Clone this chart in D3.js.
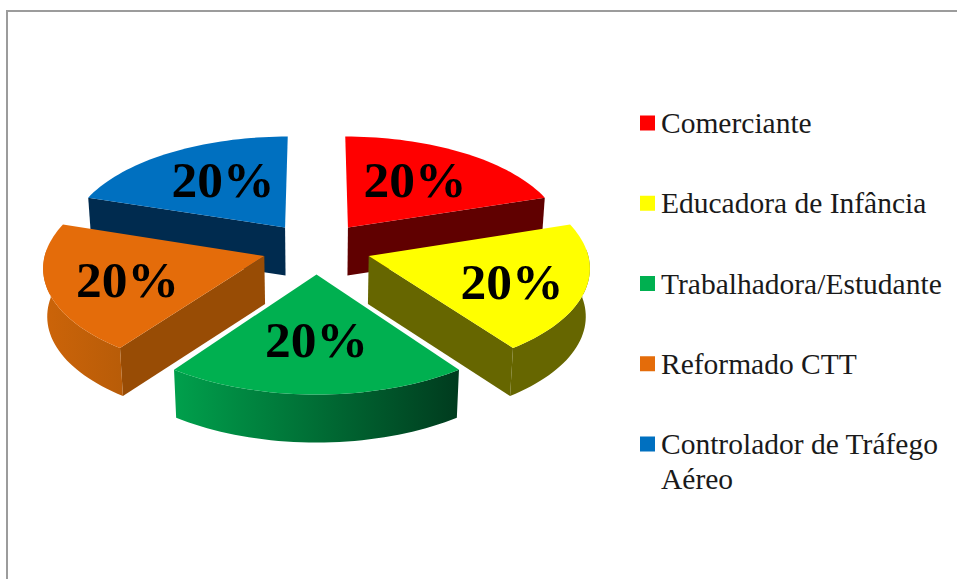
<!DOCTYPE html>
<html>
<head>
<meta charset="utf-8">
<script src="https://cdn.jsdelivr.net/npm/d3@7"></script>
<style>
    html, body { margin: 0; padding: 0; background: #fff; overflow: hidden; }
    svg { display: block; }
</style>
</head>
<body>
<div id="chart"></div>
<script>
var categories = ["Comerciante", "Educadora de Infância", "Trabalhadora/Estudante", "Reformado CTT", "Controlador de Tráfego Aéreo"];
var values = [20, 20, 20, 20, 20];

// top face, radial wall, and the two ends of the rim wall shading
var topColors = ["#ff0000", "#ffff00", "#00b050", "#e46c0a", "#0070c0"];
var wallColors = ["#600000", "#666600", "#006030", "#984c05", "#002b4f"];
var rimStart = ["#800000", "#666600", "#00a04c", "#cc6409", "#003a68"];
var rimEnd = ["#600000", "#666600", "#003b1e", "#b85c08", "#002b4f"];

// where each percent label sits: distance from the pie centre, and degrees off the slice middle
var labelPull = [0.85, 0.926, 0.821, 0.894, 0.838];
var labelTurn = [-1.5, 2, 0, -1.7, 2.9];

var width = 957, height = 579;
var centerX = 316.5, centerY = 248;
var radiusX = 218, radiusY = 103.3;
var perspective = 0.095;
var explode = 0.25;
var depth = 48;
var depthShrink = 0.985;

var svg = d3.select("#chart").append("svg")
    .attr("width", width)
    .attr("height", height);

// frame: only the top and left edges show in the picture
svg.append("path")
    .attr("d", d3.line()([[width, 11], [7, 11], [7, height]]))
    .attr("fill", "none")
    .attr("stroke", "#9c9c9c")
    .attr("stroke-width", 2);

// a point on the pie plane to the screen, v pointing away from the viewer
function project(u, v) {
    var w = 1 + perspective * v;
    return [centerX + radiusX * u / w, centerY - radiusY * v / w];
}

function lower(p) {
    return [centerX + (p[0] - centerX) * depthShrink, p[1] + depth];
}

// a point on one pulled-out slice, angle clockwise from the back
function slicePoint(d, angle, r) {
    return project(
        explode * Math.sin(d.mid) + r * Math.sin(angle),
        explode * Math.cos(d.mid) + r * Math.cos(angle)
    );
}

var lineGen = d3.line();
function polygon(points) {
    return lineGen(points) + "Z";
}

function wall(d, p) {
    return polygon([d.apex, p, lower(p), lower(d.apex)]);
}

var pie = d3.pie().sort(null)(values).map(function(d) {
    d.mid = (d.startAngle + d.endAngle) / 2;
    d.apex = slicePoint(d, d.mid, 0);
    d.angles = d3.range(0, 41).map(function(i) {
        return d.startAngle + (d.endAngle - d.startAngle) * i / 40;
    });
    d.rim = d.angles.map(function(a) { return slicePoint(d, a, 1); });
    // only the part of the rim facing the viewer gets a wall
    d.frontRim = d.rim.filter(function(p, i) { return Math.cos(d.angles[i]) <= 0.08; });
    return d;
});

var defs = svg.append("defs");
pie.forEach(function(d) {
    var grad = defs.append("linearGradient").attr("id", "rim" + d.index);
    grad.append("stop").attr("offset", "0%").attr("stop-color", rimStart[d.index]);
    grad.append("stop").attr("offset", "100%").attr("stop-color", rimEnd[d.index]);
});

// painter's order, back slices first
var ordered = pie.slice().sort(function(a, b) {
    return d3.descending(Math.cos(a.mid), Math.cos(b.mid));
});

var slices = svg.selectAll("g.slice")
    .data(ordered)
    .enter()
    .append("g")
    .attr("class", "slice");

// radial walls, only where they face the viewer
slices.filter(function(d) { return Math.sin(d.startAngle) < 0; })
    .append("path")
    .attr("d", function(d) { return wall(d, d.rim[0]); })
    .attr("fill", function(d) { return wallColors[d.index]; });

slices.filter(function(d) { return Math.sin(d.endAngle) > 0; })
    .append("path")
    .attr("d", function(d) { return wall(d, d.rim[d.rim.length - 1]); })
    .attr("fill", function(d) { return wallColors[d.index]; });

slices.filter(function(d) { return d.frontRim.length > 1; })
    .append("path")
    .attr("d", function(d) {
        return polygon(d.frontRim.concat(d.frontRim.map(lower).reverse()));
    })
    .attr("fill", function(d) { return "url(#rim" + d.index + ")"; });

slices.append("path")
    .attr("d", function(d) { return polygon([d.apex].concat(d.rim)); })
    .attr("fill", function(d) { return topColors[d.index]; });

var total = d3.sum(values);
var percent = d3.format(".0%");

function labelPoint(d) {
    var a = d.mid + labelTurn[d.index] * Math.PI / 180;
    return project(labelPull[d.index] * Math.sin(a), labelPull[d.index] * Math.cos(a));
}

svg.selectAll("text.pct")
    .data(pie)
    .enter()
    .append("text")
    .attr("class", "pct")
    .attr("x", function(d) { return labelPoint(d)[0]; })
    .attr("y", function(d) { return labelPoint(d)[1] + 17; })
    .attr("text-anchor", "middle")
    .attr("font-family", "'Liberation Serif', serif")
    .attr("font-weight", "bold")
    .attr("font-size", 51.5)
    .attr("fill", "#000")
    .text(function(d) { return percent(d.value / total); });

// legend
var legendY = d3.scalePoint()
    .domain(categories)
    .range([123, 444]);

var legend = svg.selectAll("g.legend")
    .data(categories)
    .enter()
    .append("g")
    .attr("class", "legend")
    .attr("transform", function(d) { return "translate(640," + legendY(d) + ")"; });

legend.append("rect")
    .attr("x", 0)
    .attr("y", -7.5)
    .attr("width", 15)
    .attr("height", 15)
    .attr("fill", function(d, i) { return topColors[i]; });

legend.append("text")
    .attr("y", 10)
    .attr("font-family", "'Liberation Serif', serif")
    .attr("font-size", 29.5)
    .attr("fill", "#1a1a1a")
    .each(function(d) {
        // wrap on words once a line gets wider than the legend column
        var text = d3.select(this);
        var words = d.split(" ");
        var current = [];
        var tspan = text.append("tspan").attr("x", 21);
        words.forEach(function(word) {
            current.push(word);
            tspan.text(current.join(" "));
            if (tspan.node().getComputedTextLength() > 290 && current.length > 1) {
                current.pop();
                tspan.text(current.join(" "));
                current = [word];
                tspan = text.append("tspan").attr("x", 21).attr("dy", 34.5).text(word);
            }
        });
    });
</script>
</body>
</html>
